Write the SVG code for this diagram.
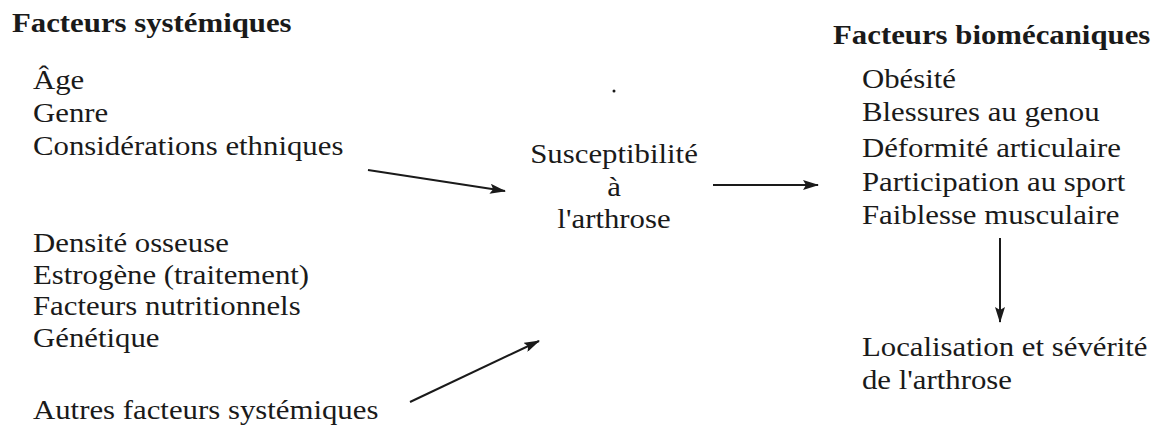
<svg xmlns="http://www.w3.org/2000/svg" width="1170" height="428" viewBox="0 0 1170 428">
  <style>
    text { font-family: 'Liberation Serif', 'Times New Roman', Times, 'DejaVu Serif', serif; font-size: 28px; fill: #1a1a1a; }
    .ttl { font-weight: bold; }
    .mid { text-anchor: middle; }
    .edge { stroke: #1a1a1a; stroke-width: 2; fill: none; marker-end: url(#head); }
  </style>
  <defs>
    <marker id="head" markerUnits="userSpaceOnUse" markerWidth="16" markerHeight="10" refX="15" refY="5" orient="auto">
      <path d="M0,0 L16,5 L0,10 L3,5 Z" fill="#1a1a1a"/>
    </marker>
  </defs>
  <rect width="1170" height="428" fill="#ffffff"/>

  <!-- text is set slightly wide: x positions are in the scaled space (divide by 1.1) -->
  <g transform="scale(1.1 1)">
    <g id="systemic">
      <text class="ttl" x="10.9" y="32">Facteurs systémiques</text>
      <text x="30" y="89">Âge</text>
      <text x="30" y="122">Genre</text>
      <text x="30" y="155">Considérations ethniques</text>
      <text x="30" y="252">Densité osseuse</text>
      <text x="30" y="284">Estrogène (traitement)</text>
      <text x="30" y="315">Facteurs nutritionnels</text>
      <text x="30" y="347">Génétique</text>
    </g>
    <g id="other-systemic">
      <text x="30" y="419">Autres facteurs systémiques</text>
    </g>
    <g id="susceptibility">
      <text class="mid" x="558.2" y="163">Susceptibilité</text>
      <text class="mid" x="558.2" y="196">à</text>
      <text class="mid" x="558.2" y="228">l'arthrose</text>
    </g>
    <g id="biomechanical">
      <text class="ttl" x="757.3" y="44">Facteurs biomécaniques</text>
      <text x="783.6" y="88">Obésité</text>
      <text x="783.6" y="121">Blessures au genou</text>
      <text x="783.6" y="157">Déformité articulaire</text>
      <text x="783.6" y="191">Participation au sport</text>
      <text x="783.6" y="224">Faiblesse musculaire</text>
    </g>
    <g id="outcome">
      <text x="783.6" y="356">Localisation et sévérité</text>
      <text x="783.6" y="389">de l'arthrose</text>
    </g>
  </g>

  <circle cx="614" cy="91" r="1.5" fill="#1a1a1a"/>

  <g id="connectors">
    <line class="edge" x1="368" y1="170" x2="505" y2="191"/>
    <line class="edge" x1="713" y1="185" x2="818" y2="185"/>
    <line class="edge" x1="410" y1="402" x2="539" y2="341"/>
    <line class="edge" x1="1000" y1="238" x2="1000" y2="322"/>
  </g>
</svg>
